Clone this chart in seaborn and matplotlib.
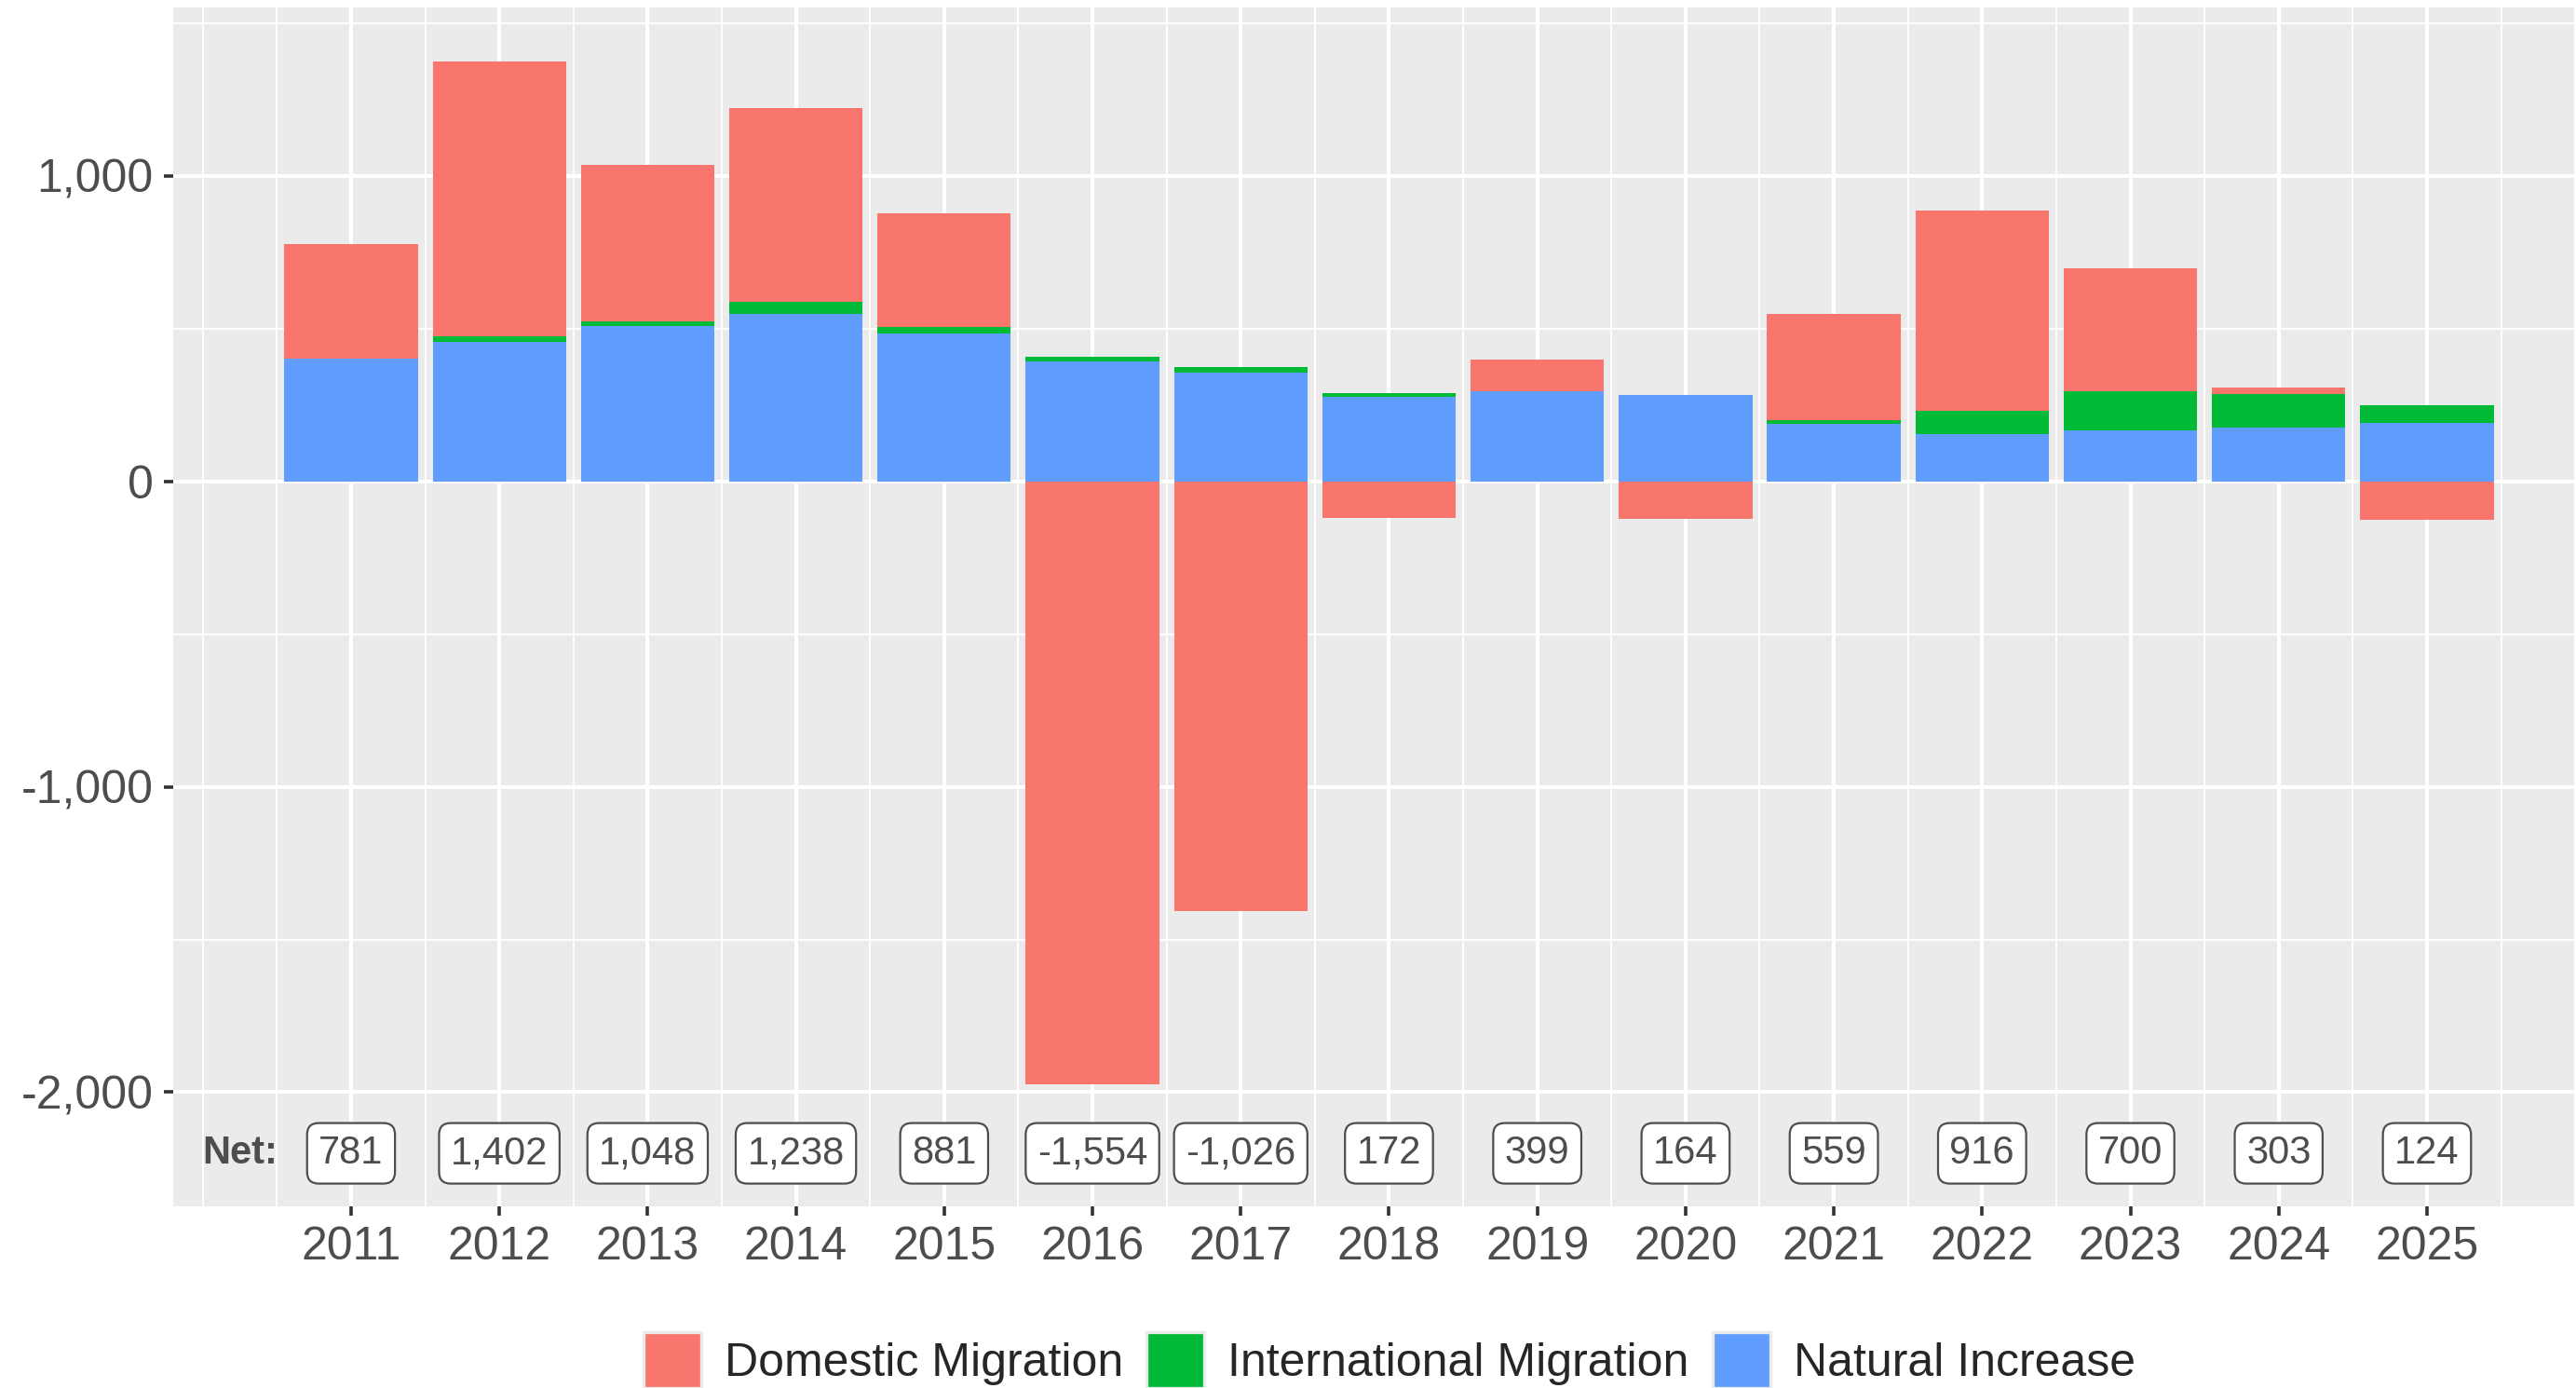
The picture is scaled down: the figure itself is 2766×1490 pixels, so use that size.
"""
Stacked components of population change by year, with net labels.
"""

import matplotlib

matplotlib.use("Agg")
import matplotlib.pyplot as plt
from matplotlib.patches import Patch
from matplotlib.ticker import FuncFormatter
import numpy as np
import pandas as pd
import seaborn as sns

years = list(range(2011, 2026))
natural = [402, 457, 508, 548, 485, 391, 356, 277, 296, 283, 189, 155, 168, 176, 191]
international = [0, 18, 15, 38, 20, 18, 18, 12, 0, 0, 10, 76, 126, 111, 58]
domestic = [376, 900, 512, 637, 371, -1973, -1408, -119, 101, -122, 349, 655, 403, 19, -127]
net = [781, 1402, 1048, 1238, 881, -1554, -1026, 172, 399, 164, 559, 916, 700, 303, 124]

components = ["Domestic Migration", "International Migration", "Natural Increase"]
colors = {"Domestic Migration": "#F8766D",
          "International Migration": "#00BA38",
          "Natural Increase": "#619CFF"}

# build long table with stacking offsets (ggplot-style: negatives stack separately)
rows = []
pos_base = np.zeros(len(years))
neg_base = np.zeros(len(years))
for comp, vals in [("Natural Increase", natural),
                   ("International Migration", international),
                   ("Domestic Migration", domestic)]:
    for i, (yr, v) in enumerate(zip(years, vals)):
        if v >= 0:
            rows.append((yr, comp, v, pos_base[i]))
            pos_base[i] += v
        else:
            rows.append((yr, comp, v, neg_base[i]))
            neg_base[i] += v
df = pd.DataFrame(rows, columns=["year", "component", "value", "bottom"])

sns.set_style("darkgrid", {"axes.facecolor": "#EBEBEB", "grid.color": "white"})
plt.rcParams["font.family"] = ["Liberation Sans", "DejaVu Sans"]

fig = plt.figure(figsize=(13.83, 7.45), dpi=200)
ax = fig.add_axes([0.0672, 0.131, 0.9325, 0.8636])

for comp in ["Natural Increase", "International Migration", "Domestic Migration"]:
    sub = df[df["component"] == comp].sort_values("year")
    sns.barplot(data=sub, x="year", y="value", bottom=sub["bottom"].values,
                native_scale=True, color=colors[comp], width=0.9,
                errorbar=None, linewidth=0, saturation=1, ax=ax)

# net labels
ax.text(2010.25, -2200, "Net:", ha="center", va="center", fontsize=15,
        fontweight="bold", color="#4D4D4D")
for yr, n in zip(years, net):
    ax.text(yr, -2200, f"{n:,}", ha="center", va="center", fontsize=15,
            color="#4D4D4D",
            bbox=dict(boxstyle="round,pad=0.3,rounding_size=0.3",
                      facecolor="white", edgecolor="#4D4D4D", linewidth=0.8))

ax.set_xlim(2009.8, 2026.0)
ax.set_ylim(-2373, 1551)
ax.set_xticks(years)
ax.set_xticklabels([str(y) for y in years])
minor_x = [x for x in np.arange(2010, 2026.01, 0.5) if x not in years]
ax.set_xticks(minor_x, minor=True)
ax.set_yticks([-2000, -1000, 0, 1000])
ax.set_yticks([-1500, -500, 500, 1500], minor=True)
ax.yaxis.set_major_formatter(FuncFormatter(lambda v, p: f"{v:,.0f}"))

ax.grid(which="major", color="white", linewidth=1.45)
ax.grid(which="minor", color="white", linewidth=0.7)
ax.set_axisbelow(True)
for s in ax.spines.values():
    s.set_visible(False)

ax.tick_params(axis="both", which="major", labelsize=18, labelcolor="#4D4D4D",
               color="#333333", length=3.6, width=1.3, direction="out")
ax.tick_params(axis="y", which="major", pad=4, left=True)
ax.tick_params(axis="x", which="major", pad=4, bottom=True)
ax.tick_params(which="minor", length=0)
ax.set_xlabel("")
ax.set_ylabel("")

handles = [Patch(facecolor=colors[c], edgecolor="#EBEBEB", linewidth=1.2, label=c)
           for c in components]
fig.legend(handles=handles, loc="center", bbox_to_anchor=(0.5394, 0.0201), ncol=3,
           frameon=False, fontsize=18, handlelength=1.24, handleheight=1.46,
           handletextpad=0.5, columnspacing=0.5)

fig.savefig("out.png", dpi=200)
plt.close(fig)
